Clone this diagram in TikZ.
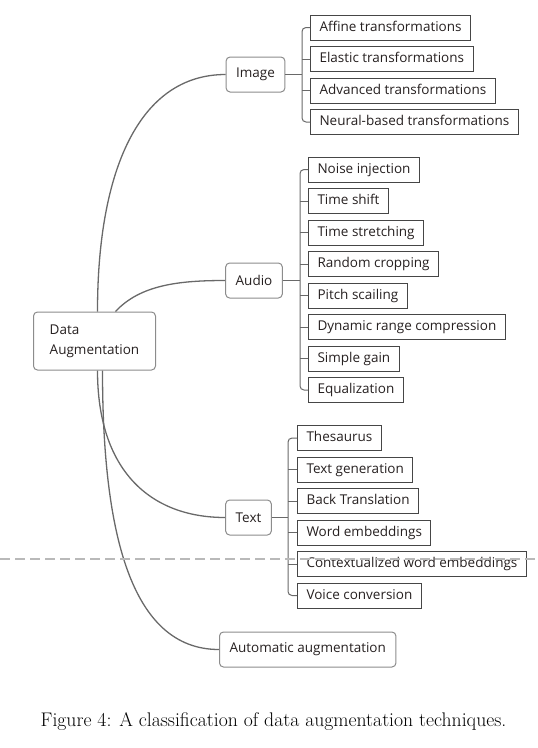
\documentclass[tikz,border=0pt]{standalone}
\usepackage{fontspec}
\usepackage{tikz}
\usetikzlibrary{positioning,calc}
\newfontfamily\mapfont{Open Sans}
\definecolor{ink}{RGB}{38, 32, 32}
\definecolor{stem}{RGB}{105, 105, 105}
\definecolor{frame}{RGB}{140, 140, 140}
\definecolor{leafline}{RGB}{70, 70, 70}
\tikzset{
    hub/.style={rectangle, draw=frame, fill=white, rounded corners=4pt, line width=1pt, align=left, inner xsep=12pt, minimum width=122pt, minimum height=58pt, text=ink, font=\mapfont\fontsize{13.5}{20}\selectfont},
    branch/.style={rectangle, draw=frame, fill=white, rounded corners=4pt, line width=1pt, inner xsep=10pt, minimum height=35pt, text=ink, font=\mapfont\fontsize{13.5}{16}\selectfont},
    leaf/.style={rectangle, draw=leafline, fill=white, line width=1pt, inner xsep=9pt, minimum height=25pt, text height=10pt, text depth=3pt, text=ink, font=\mapfont\fontsize{13.5}{16}\selectfont},
    link/.style={draw=stem, line width=1.3pt},
    twig/.style={draw=stem, line width=1pt},
    figcap/.style={font=\fontsize{19.7}{22}\selectfont}
}
\begin{document}
\begin{tikzpicture}[x=1pt, y=-1pt]
    \useasboundingbox (0,0) rectangle (538,748);
    \node (root) [hub, anchor=west] at (33,341) {Data\\Augmentation};
    \node (img) [branch] at (255.5,74.5) {Image};
    \node (aud) [branch] at (254,280.5) {Audio};
    \node (txt) [branch] at (248.5,517.5) {Text};
    \node (auto) [branch, anchor=west] at (219,649.5) {Automatic augmentation};

    % Image
    \node (aff) [leaf, anchor=west] at (310,27.5) {Affine transformations};
    \node (ela) [leaf, below=5.5pt of aff.south west, anchor=north west] {Elastic transformations};
    \node (adv) [leaf, below=5.5pt of ela.south west, anchor=north west] {Advanced transformations};
    \node (neu) [leaf, below=5.5pt of adv.south west, anchor=north west] {Neural-based transformations};

    % Audio
    \node (noi) [leaf, anchor=west] at (308,169.5) {Noise injection};
    \node (shi) [leaf, below=5.5pt of noi.south west, anchor=north west] {Time shift};
    \node (str) [leaf, below=5.5pt of shi.south west, anchor=north west] {Time stretching};
    \node (cro) [leaf, below=5.5pt of str.south west, anchor=north west] {Random cropping};
    \node (pit) [leaf, below=5.5pt of cro.south west, anchor=north west] {Pitch scailing};
    \node (dyn) [leaf, below=5.5pt of pit.south west, anchor=north west] {Dynamic range compression};
    \node (gai) [leaf, below=5.5pt of dyn.south west, anchor=north west] {Simple gain};
    \node (equ) [leaf, below=5.5pt of gai.south west, anchor=north west] {Equalization};

    % Text
    \node (the) [leaf, anchor=west] at (297,438) {Thesaurus};
    \node (gen) [leaf, below=5.5pt of the.south west, anchor=north west] {Text generation};
    \node (bac) [leaf, below=5.5pt of gen.south west, anchor=north west] {Back Translation};
    \node (wor) [leaf, below=5.5pt of bac.south west, anchor=north west] {Word embeddings};
    \node (con) [leaf, below=5.5pt of wor.south west, anchor=north west] {Contextualized word embeddings};
    \node (voi) [leaf, below=5.5pt of con.south west, anchor=north west] {Voice conversion};

    % curves from the root
    \draw [link] ([xshift=3pt]root.north) .. controls +(0,-142) and +(-86,0) .. (img.west);
    \draw [link] ([xshift=21pt]root.north) .. controls +(25,-27) and +(-45,0) .. (aud.west);
    \draw [link] ([xshift=3pt]root.south) .. controls +(0,100) and +(-75,0) .. (txt.west);
    \draw [link] ([xshift=8pt]root.south) .. controls +(0,160) and +(-89,0) .. (auto.west);

    % brackets
    \coordinate (imgfork) at (302,74.5);
    \coordinate (audfork) at (300,280.5);
    \coordinate (txtfork) at (288,517.5);
    \draw [twig] (img.east) -- (imgfork);
    \draw [twig, rounded corners=4pt] (aff.west) -| (imgfork) |- (neu.west);
    \draw [twig] (ela.west) -- (ela.west -| imgfork);
    \draw [twig] (adv.west) -- (adv.west -| imgfork);
    \draw [twig] (aud.east) -- (audfork);
    \draw [twig, rounded corners=4pt] (noi.west) -| (audfork) |- (equ.west);
    \draw [twig] (shi.west) -- (shi.west -| audfork);
    \draw [twig] (str.west) -- (str.west -| audfork);
    \draw [twig] (cro.west) -- (cro.west -| audfork);
    \draw [twig] (pit.west) -- (pit.west -| audfork);
    \draw [twig] (dyn.west) -- (dyn.west -| audfork);
    \draw [twig] (gai.west) -- (gai.west -| audfork);
    \draw [twig] (txt.east) -- (txtfork);
    \draw [twig, rounded corners=4pt] (the.west) -| (txtfork) |- (voi.west);
    \draw [twig] (gen.west) -- (gen.west -| txtfork);
    \draw [twig] (bac.west) -- (bac.west -| txtfork);
    \draw [twig] (wor.west) -- (wor.west -| txtfork);
    \draw [twig] (con.west) -- (con.west -| txtfork);

    % page break line
    \draw [gray!55, line width=1.5pt, dash pattern=on 10pt off 5pt] (0,559) -- (538,559);

    \node (cap) [figcap] at (273.5,722) {Figure 4: A classification of data augmentation techniques.};
\end{tikzpicture}
\end{document}
